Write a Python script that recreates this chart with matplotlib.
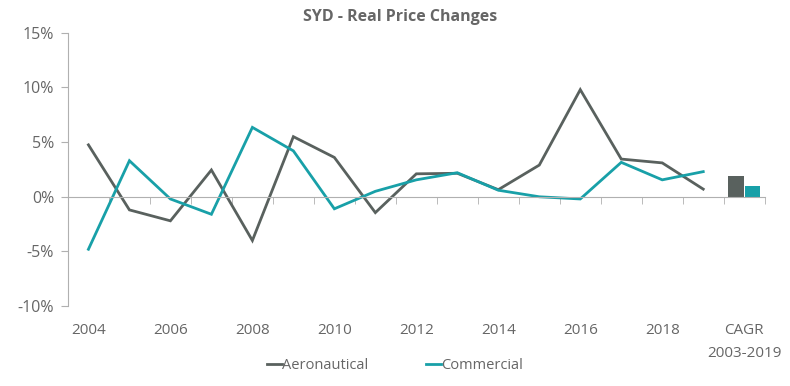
import numpy as np
import matplotlib
matplotlib.use("Agg")
import matplotlib.pyplot as plt

plt.rcParams['font.family'] = ['Open Sans', 'DejaVu Sans']

years = list(range(2004, 2020))
aero = [4.75, -1.2, -2.2, 2.45, -4.0, 5.5, 3.6, -1.45, 2.1, 2.15, 0.65, 2.9, 9.8, 3.45, 3.1, 0.7]
comm = [-4.8, 3.3, -0.2, -1.6, 6.35, 4.2, -1.1, 0.5, 1.55, 2.2, 0.6, 0.0, -0.2, 3.15, 1.55, 2.3]
cagr_aero = 1.9
cagr_comm = 1.0
tick_labels = [str(y) if y % 2 == 0 else "" for y in years] + ["CAGR\n2003-2019"]

grey = '#59615e'
teal = '#18a0a8'
txt = '#666666'
axc = '#b0b0b0'

fig = plt.figure(figsize=(7.9, 3.86), dpi=100)
ax = fig.add_axes([0.086, 0.207, 0.882, 0.708])

x = np.arange(len(years))
ax.plot(x, aero, color=grey, lw=2.0, label='Aeronautical', solid_joinstyle='miter')
ax.plot(x, comm, color=teal, lw=2.0, label='Commercial', solid_joinstyle='miter')
cx = len(years)
ax.bar(cx - 0.2, cagr_aero, width=0.38, color=grey)
ax.bar(cx + 0.2, cagr_comm, width=0.38, color=teal)

ax.set_xlim(-0.5, cx + 0.5)
ax.set_ylim(-10, 15)
ax.set_yticks([-10, -5, 0, 5, 10, 15])
ax.set_yticklabels([f"{v}%" for v in [-10, -5, 0, 5, 10, 15]])

ax.spines['top'].set_visible(False)
ax.spines['right'].set_visible(False)
ax.spines['left'].set_color(axc)
ax.spines['bottom'].set_color(axc)
ax.spines['bottom'].set_position(('data', 0))

ax.set_xticks(np.arange(cx + 1))
ax.set_xticklabels(tick_labels, va='top', linespacing=1.75)
ax.set_xticks(np.arange(-0.5, cx + 1.0, 1.0), minor=True)
ax.tick_params(axis='x', which='major', length=0, pad=91, labelsize=11, labelcolor=txt)
ax.tick_params(axis='x', which='minor', length=5, color=axc, direction='out')
ax.tick_params(axis='y', length=5, color=axc, labelsize=11.5, labelcolor=txt, pad=5)

fig.text(0.507, 0.955, "SYD - Real Price Changes", ha='center', va='center',
         fontsize=11.5, fontweight='bold', color=txt)

fig.legend(loc='lower center', bbox_to_anchor=(0.5, 0.0), ncol=2, frameon=False,
           fontsize=10.5, labelcolor=txt, handlelength=1.0, handletextpad=0.0,
           columnspacing=4.0)

fig.savefig("out.png", dpi=100)
